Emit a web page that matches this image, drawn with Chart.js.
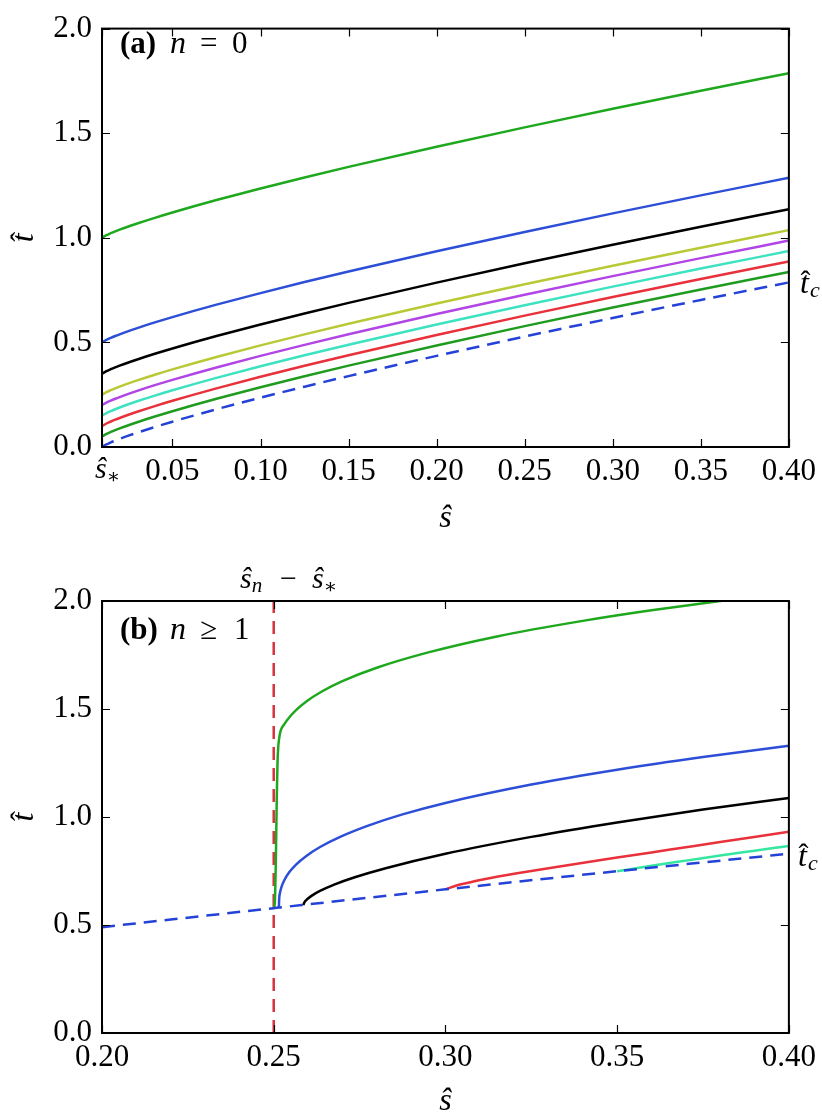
<!DOCTYPE html>
<html>
<head>
<meta charset="utf-8">
<script src="https://cdn.jsdelivr.net/npm/chart.js@4.4.1/dist/chart.umd.min.js"></script>
<style>
  body { margin: 0; background: #fff; width: 822px; height: 1113px; overflow: hidden; position: relative; }
  canvas { position: absolute; left: 0; }
  #chartA { top: 0; }
  #chartB { top: 560px; }
</style>
</head>
<body>
<canvas id="chartA" width="822" height="540"></canvas>
<canvas id="chartB" width="822" height="553"></canvas>
<script>
// ---- panel (a): n = 0 ----
const sStar = 0.01;
const sA   = [0.01, 0.0125, 0.015, 0.0175, 0.02, 0.025, 0.03, 0.04, 0.05, 0.075, 0.10, 0.125, 0.15, 0.20, 0.25, 0.30, 0.35, 0.40];
const tcA  = [0.0000, 0.0124, 0.0219, 0.0306, 0.0387, 0.0541, 0.0685, 0.0955, 0.1210, 0.1804, 0.2357, 0.2883, 0.3389, 0.4356, 0.5279, 0.6167, 0.7028, 0.7868];
const t005 = [0.0500, 0.0624, 0.0719, 0.0806, 0.0887, 0.1041, 0.1185, 0.1455, 0.1710, 0.2304, 0.2857, 0.3383, 0.3889, 0.4856, 0.5779, 0.6667, 0.7528, 0.8368];
const t010 = [0.1000, 0.1124, 0.1219, 0.1306, 0.1387, 0.1541, 0.1685, 0.1955, 0.2210, 0.2804, 0.3357, 0.3883, 0.4389, 0.5356, 0.6279, 0.7167, 0.8028, 0.8868];
const t015 = [0.1500, 0.1624, 0.1719, 0.1806, 0.1887, 0.2041, 0.2185, 0.2455, 0.2710, 0.3304, 0.3857, 0.4383, 0.4889, 0.5856, 0.6779, 0.7667, 0.8528, 0.9368];
const t020 = [0.2000, 0.2124, 0.2219, 0.2306, 0.2387, 0.2541, 0.2685, 0.2955, 0.3210, 0.3804, 0.4357, 0.4883, 0.5389, 0.6356, 0.7279, 0.8167, 0.9028, 0.9868];
const t025 = [0.2500, 0.2624, 0.2719, 0.2806, 0.2887, 0.3041, 0.3185, 0.3455, 0.3710, 0.4304, 0.4857, 0.5383, 0.5889, 0.6856, 0.7779, 0.8667, 0.9528, 1.0368];
const t035 = [0.3500, 0.3624, 0.3719, 0.3806, 0.3887, 0.4041, 0.4185, 0.4455, 0.4710, 0.5304, 0.5857, 0.6383, 0.6889, 0.7856, 0.8779, 0.9667, 1.0528, 1.1368];
const t050 = [0.5000, 0.5124, 0.5219, 0.5306, 0.5387, 0.5541, 0.5685, 0.5955, 0.6210, 0.6804, 0.7357, 0.7883, 0.8389, 0.9356, 1.0279, 1.1167, 1.2028, 1.2868];
const t100 = [1.0000, 1.0124, 1.0219, 1.0306, 1.0387, 1.0541, 1.0685, 1.0955, 1.1210, 1.1804, 1.2357, 1.2883, 1.3389, 1.4356, 1.5279, 1.6167, 1.7028, 1.7868];
const xTicksA = [sStar, 0.05, 0.10, 0.15, 0.20, 0.25, 0.30, 0.35, 0.40];

// ---- panel (b): n >= 1 ----
const snMinusStar = 0.25;
const sTcB = [0.20, 0.25, 0.30, 0.35, 0.40];
const tcB  = [0.490, 0.578, 0.665, 0.749, 0.830];
const sGreenB = [0.2500, 0.2503, 0.2506, 0.2509, 0.2511, 0.2513, 0.2516, 0.2520, 0.2530, 0.2545, 0.2565, 0.2595, 0.2640, 0.2700, 0.2800, 0.2950, 0.3150, 0.3400, 0.3600, 0.3800, 0.4000];
const tGreenB = [0.578, 0.600, 0.780, 1.100, 1.250, 1.320, 1.365, 1.399, 1.428, 1.461, 1.495, 1.535, 1.581, 1.629, 1.691, 1.762, 1.836, 1.908, 1.957, 2.000, 2.039];
const sBlueB = [0.2515, 0.2516, 0.2518, 0.2522, 0.2530, 0.2545, 0.2565, 0.2595, 0.2635, 0.2695, 0.2775, 0.2875, 0.30, 0.325, 0.35, 0.375, 0.40];
const tBlueB = [0.580, 0.624, 0.647, 0.673, 0.705, 0.744, 0.780, 0.820, 0.861, 0.909, 0.960, 1.012, 1.065, 1.150, 1.219, 1.278, 1.330];
const sBlackB = [0.2586, 0.2589, 0.2596, 0.2611, 0.2636, 0.2676, 0.2736, 0.2826, 0.30, 0.325, 0.35, 0.375, 0.40];
const tBlackB = [0.592, 0.604, 0.617, 0.636, 0.659, 0.687, 0.721, 0.763, 0.830, 0.908, 0.975, 1.035, 1.088];
const sRedB = [0.30, 0.303, 0.307, 0.312, 0.32, 0.33, 0.35, 0.365, 0.38, 0.40];
const tRedB = [0.665, 0.682, 0.697, 0.714, 0.737, 0.763, 0.812, 0.848, 0.884, 0.932];
const sCyanB = [0.35, 0.36, 0.37, 0.38, 0.39, 0.40];
const tCyanB = [0.749, 0.774, 0.798, 0.822, 0.844, 0.866];
const xTicksB = [0.20, 0.25, 0.30, 0.35, 0.40];

const yTicks = [0.0, 0.5, 1.0, 1.5, 2.0];

const SERIF = '"Liberation Serif", "DejaVu Serif", serif';
const DASH = [13, 8];

const pts = (xs, ys) => xs.map((x, i) => ({ x: x, y: ys[i] }));

function line(xs, ys, color, dashed) {
    return {
        data: pts(xs, ys),
        borderColor: color,
        borderWidth: 2.5,
        borderDash: dashed ? DASH : [],
        pointRadius: 0,
        fill: false,
        cubicInterpolationMode: 'monotone'
    };
}

// inward ticks on all four sides plus the black frame
const frameTicks = {
    id: 'frameTicks',
    afterDatasetsDraw(chart) {
        const { ctx, chartArea: a, scales: { x, y } } = chart;
        const L = 8;
        ctx.save();
        ctx.strokeStyle = '#000';
        ctx.lineWidth = 1.2;
        ctx.beginPath();
        x.ticks.forEach(t => {
            const px = Math.round(x.getPixelForValue(t.value)) + 0.5;
            ctx.moveTo(px, a.bottom); ctx.lineTo(px, a.bottom - L);
            ctx.moveTo(px, a.top); ctx.lineTo(px, a.top + L);
        });
        y.ticks.forEach(t => {
            const py = Math.round(y.getPixelForValue(t.value)) + 0.5;
            ctx.moveTo(a.left, py); ctx.lineTo(a.left + L, py);
            ctx.moveTo(a.right, py); ctx.lineTo(a.right - L, py);
        });
        ctx.stroke();
        ctx.lineWidth = 2;
        ctx.strokeRect(a.left, a.top, a.right - a.left, a.bottom - a.top);
        ctx.restore();
    }
};

function txt(ctx, s, x, y, font, align) {
    ctx.font = font;
    ctx.textAlign = align || 'left';
    ctx.textBaseline = 'alphabetic';
    ctx.fillText(s, x, y);
    return ctx.measureText(s).width;
}

// italic t with a circumflex on top
function hatT(ctx, x, y) {
    const w = txt(ctx, 't', x, y, 'italic 32px ' + SERIF);
    txt(ctx, '\u02C6', x + w * 0.62, y - 2, '30px ' + SERIF, 'center');
    return w;
}

function tHatC(ctx, x, y) {
    const w = hatT(ctx, x, y);
    txt(ctx, 'c', x + w + 1, y + 4, 'italic 22px ' + SERIF);
}

function sHat(ctx, x, y, size, align) {
    return txt(ctx, '\u015D', x, y, 'italic ' + size + 'px ' + SERIF, align);
}

function yTitle(ctx, cy) {
    ctx.save();
    ctx.translate(33, cy);
    ctx.rotate(-Math.PI / 2);
    ctx.font = 'italic 32px ' + SERIF;
    const w = ctx.measureText('t').width;
    hatT(ctx, -w / 2, 0);
    ctx.restore();
}

const annotA = {
    id: 'annotA',
    afterDraw(chart) {
        const ctx = chart.ctx;
        ctx.save();
        ctx.fillStyle = '#000';
        txt(ctx, '(a)', 120, 53, 'bold 31px ' + SERIF);
        txt(ctx, 'n', 170, 53, 'italic 32px ' + SERIF);
        txt(ctx, '=', 200, 53, '31px ' + SERIF);
        txt(ctx, '0', 232, 53, '31px ' + SERIF);
        // s* tick label at the left corner
        const w = sHat(ctx, 95, 478, 30);
        txt(ctx, '\u2217', 95 + w, 483, '20px ' + SERIF);
        tHatC(ctx, 800, 293);
        sHat(ctx, chart.chartArea.left + (chart.chartArea.right - chart.chartArea.left) / 2, 527, 32, 'center');
        yTitle(ctx, (chart.chartArea.top + chart.chartArea.bottom) / 2);
        ctx.restore();
    }
};

const annotB = {
    id: 'annotB',
    afterDraw(chart) {
        const ctx = chart.ctx;
        ctx.save();
        ctx.fillStyle = '#000';
        txt(ctx, '(b)', 120, 79, 'bold 31px ' + SERIF);
        txt(ctx, 'n', 170, 79, 'italic 32px ' + SERIF);
        txt(ctx, '\u2265', 200, 79, '31px ' + SERIF);
        txt(ctx, '1', 234, 79, '31px ' + SERIF);
        // label of the dashed vertical line
        let w = sHat(ctx, 240, 28, 30);
        txt(ctx, 'n', 240 + w, 32, 'italic 21px ' + SERIF);
        txt(ctx, '\u2212', 280, 28, '30px ' + SERIF);
        w = sHat(ctx, 312, 28, 30);
        txt(ctx, '\u2217', 312 + w, 33, '20px ' + SERIF);
        tHatC(ctx, 798, 306);
        sHat(ctx, chart.chartArea.left + (chart.chartArea.right - chart.chartArea.left) / 2, 550, 32, 'center');
        yTitle(ctx, (chart.chartArea.top + chart.chartArea.bottom) / 2);
        ctx.restore();
    }
};

function axes(xMin, xMax, xTicks, xFmt, axisHeight) {
    const tickFont = { family: SERIF, size: 31 };
    return {
        x: {
            type: 'linear', min: xMin, max: xMax,
            afterBuildTicks: s => { s.ticks = xTicks.map(v => ({ value: v })); },
            afterFit: s => { s.height = axisHeight; },
            grid: { display: false, drawTicks: false },
            border: { display: false },
            ticks: { font: tickFont, color: '#000', padding: 6, maxRotation: 0, autoSkip: false, callback: xFmt }
        },
        y: {
            type: 'linear', min: 0, max: 2,
            afterBuildTicks: s => { s.ticks = yTicks.map(v => ({ value: v })); },
            afterFit: s => { s.width = 102; },
            grid: { display: false, drawTicks: false },
            border: { display: false },
            ticks: { font: tickFont, color: '#000', padding: 10, autoSkip: false, callback: v => v.toFixed(1) }
        }
    };
}

const baseOptions = (padTop, scales) => ({
    responsive: false,
    animation: false,
    layout: { padding: { top: padTop, right: 32, left: 0, bottom: 0 } },
    plugins: { legend: { display: false }, tooltip: { enabled: false } },
    scales: scales
});

new Chart(document.getElementById('chartA'), {
    type: 'line',
    data: {
        datasets: [
            line(sA, t100, '#1ea81e'),
            line(sA, t050, '#2d4fd8'),
            line(sA, t035, '#000000'),
            line(sA, t025, '#b9c935'),
            line(sA, t020, '#b145e6'),
            line(sA, t015, '#3de3c1'),
            line(sA, t010, '#e8313b'),
            line(sA, t005, '#1f9c1f'),
            line(sA, tcA, '#2442d8', true)
        ]
    },
    options: baseOptions(15, axes(sStar, 0.40, xTicksA, v => (v === sStar ? '' : v.toFixed(2)), 93)),
    plugins: [frameTicks, annotA]
});

const redLine = line([snMinusStar, snMinusStar], [0, 2], '#d5343f', true);
redLine.cubicInterpolationMode = 'default';
redLine.tension = 0;

new Chart(document.getElementById('chartB'), {
    type: 'line',
    data: {
        datasets: [
            line(sTcB, tcB, '#2442d8', true),
            line(sGreenB, tGreenB, '#1ea81e'),
            line(sBlueB, tBlueB, '#2d4fd8'),
            line(sBlackB, tBlackB, '#000000'),
            line(sRedB, tRedB, '#e8313b'),
            line(sCyanB, tCyanB, '#35e6a0'),
            redLine
        ]
    },
    options: baseOptions(41, axes(0.20, 0.40, xTicksB, v => v.toFixed(2), 80)),
    plugins: [frameTicks, annotB]
});
</script>
</body>
</html>
